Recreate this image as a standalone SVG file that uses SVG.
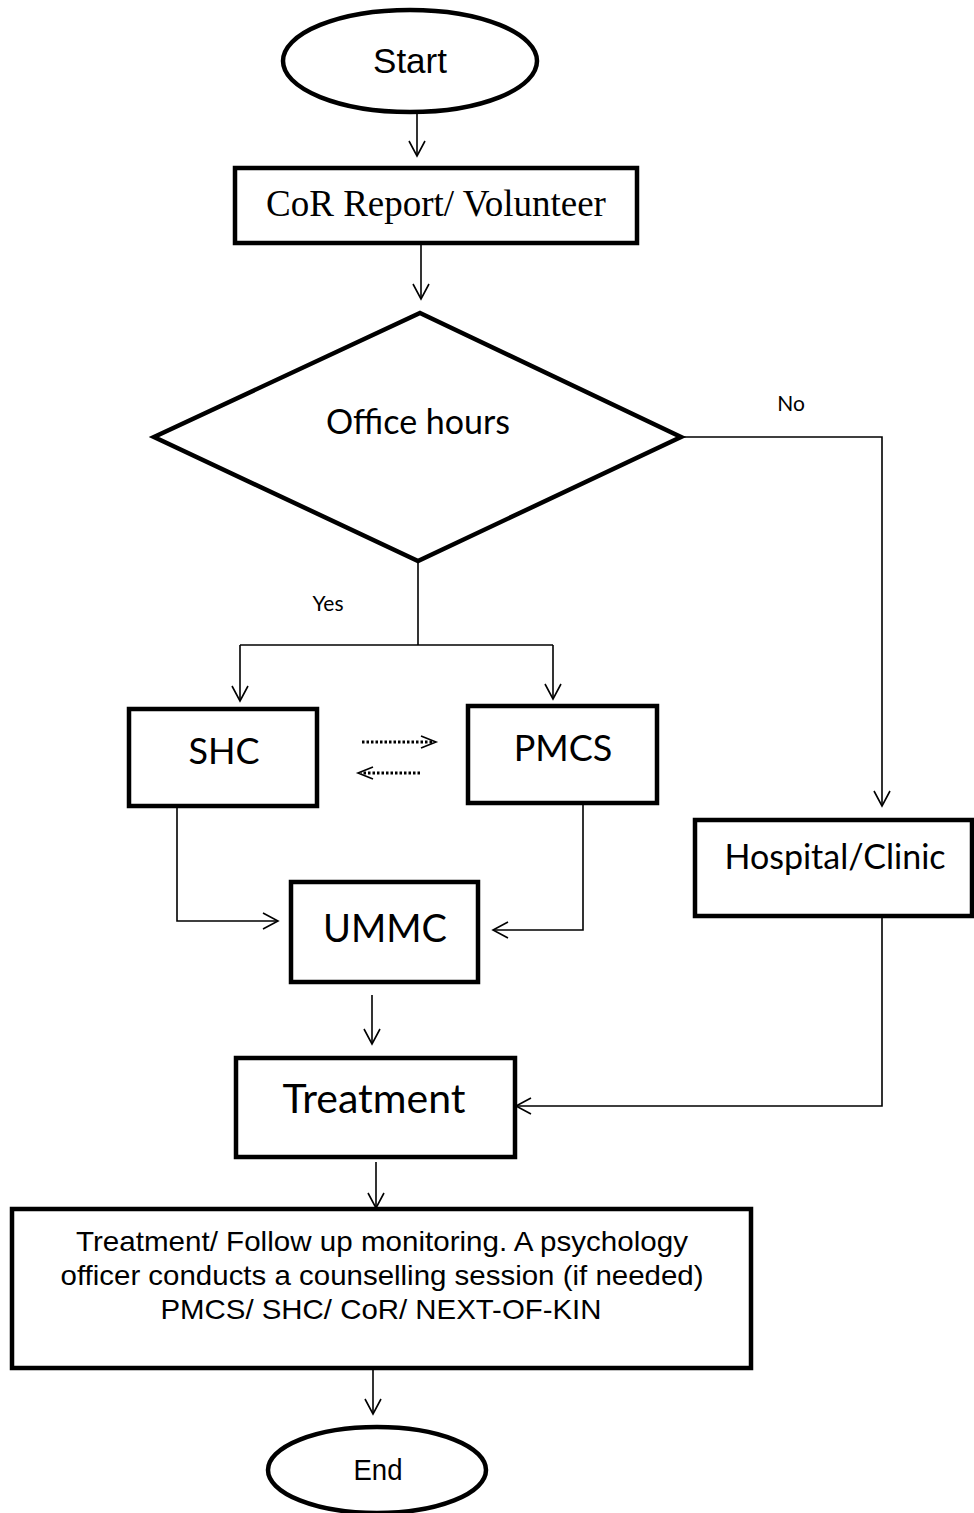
<svg xmlns="http://www.w3.org/2000/svg" width="974" height="1513" viewBox="0 0 974 1513">
<style>
.n{fill:#fff;stroke:#000;stroke-width:4.5}
.c{fill:none;stroke:#000;stroke-width:1.6}
.d{fill:none;stroke:#000;stroke-width:3;stroke-dasharray:2.5,2}
.cal{font-family:Lato,"Open Sans",sans-serif;fill:#000;text-anchor:middle}
.ar{font-family:"Liberation Sans",Arial,sans-serif;fill:#000;text-anchor:middle}
.tm{font-family:"Liberation Serif","Times New Roman",serif;fill:#000;text-anchor:middle}
.nar{font-family:"Liberation Sans Narrow","Liberation Sans",Arial,sans-serif;fill:#000;text-anchor:middle}
</style>
<defs>
<marker id="a" markerUnits="userSpaceOnUse" markerWidth="20" markerHeight="20" viewBox="0 0 20 20" refX="18" refY="10" orient="auto">
<path d="M3,2 L18,10 L3,18" fill="none" stroke="#000" stroke-width="1.6"/>
</marker>
</defs>
<g id="connectors">
<line class="c" x1="417" y1="113" x2="417" y2="156" marker-end="url(#a)"/>
<line class="c" x1="421" y1="245" x2="421" y2="299" marker-end="url(#a)"/>
<polyline class="c" points="681,437 882,437 882,806" marker-end="url(#a)"/>
<line class="c" x1="418" y1="561" x2="418" y2="645"/>
<polyline class="c" points="240,645 553,645"/>
<line class="c" x1="240" y1="645" x2="240" y2="701" marker-end="url(#a)"/>
<line class="c" x1="553" y1="645" x2="553" y2="699" marker-end="url(#a)"/>
<line class="d" x1="362" y1="742" x2="434" y2="742"/>
<path d="M421,736 L436,742 L421,748" fill="none" stroke="#000" stroke-width="1.6"/>
<line class="d" x1="420" y1="773" x2="361" y2="773"/>
<path d="M373,767 L358,773 L373,779" fill="none" stroke="#000" stroke-width="1.6"/>
<polyline class="c" points="177,806 177,921 278,921" marker-end="url(#a)"/>
<polyline class="c" points="583,803 583,930 493,930" marker-end="url(#a)"/>
<line class="c" x1="372" y1="995" x2="372" y2="1044" marker-end="url(#a)"/>
<polyline class="c" points="882,916 882,1106 516,1106" marker-end="url(#a)"/>
<line class="c" x1="376" y1="1162" x2="376" y2="1208" marker-end="url(#a)"/>
<line class="c" x1="373" y1="1368" x2="373" y2="1414" marker-end="url(#a)"/>
</g>
<g id="start">
<ellipse class="n" cx="410" cy="61" rx="127" ry="51"/>
<text class="ar" x="410" y="73" font-size="35">Start</text>
</g>
<g id="cor">
<rect class="n" x="235" y="168" width="402" height="75"/>
<text class="tm" x="436" y="216" font-size="37">CoR Report/ Volunteer</text>
</g>
<g id="office">
<polygon class="n" points="420,313 681,437 418,561 154,437"/>
<text class="cal" x="418" y="434" font-size="34">Office hours</text>
</g>
<g id="labels">
<text class="cal" x="791" y="411" font-size="21">No</text>
<text class="cal" x="328" y="611" font-size="21">Yes</text>
</g>
<g id="shc">
<rect class="n" x="129" y="709" width="188" height="97"/>
<text class="cal" x="224" y="764" font-size="36">SHC</text>
</g>
<g id="pmcs">
<rect class="n" x="468" y="706" width="189" height="97"/>
<text class="cal" x="563" y="761" font-size="36">PMCS</text>
</g>
<g id="hospital">
<rect class="n" x="695" y="820" width="277" height="96"/>
<text class="cal" x="835" y="869" font-size="34">Hospital/Clinic</text>
</g>
<g id="ummc">
<rect class="n" x="291" y="882" width="187" height="100"/>
<text class="cal" x="385" y="942" font-size="38">UMMC</text>
</g>
<g id="treatment">
<rect class="n" x="236" y="1058" width="279" height="99"/>
<text class="cal" x="374" y="1113" font-size="41">Treatment</text>
</g>
<g id="followup">
<rect class="n" x="12" y="1209" width="739" height="159"/>
<text class="nar" x="382" y="1251" font-size="28" textLength="612" lengthAdjust="spacingAndGlyphs">Treatment/ Follow up monitoring. A psychology</text>
<text class="nar" x="382" y="1285" font-size="28" textLength="643" lengthAdjust="spacingAndGlyphs">officer conducts a counselling session (if needed)</text>
<text class="nar" x="381" y="1319" font-size="28" textLength="441" lengthAdjust="spacingAndGlyphs">PMCS/ SHC/ CoR/ NEXT-OF-KIN</text>
</g>
<g id="end">
<ellipse class="n" cx="377" cy="1470" rx="109" ry="43"/>
<text class="nar" x="378" y="1480" font-size="29" textLength="49" lengthAdjust="spacingAndGlyphs">End</text>
</g>
</svg>
